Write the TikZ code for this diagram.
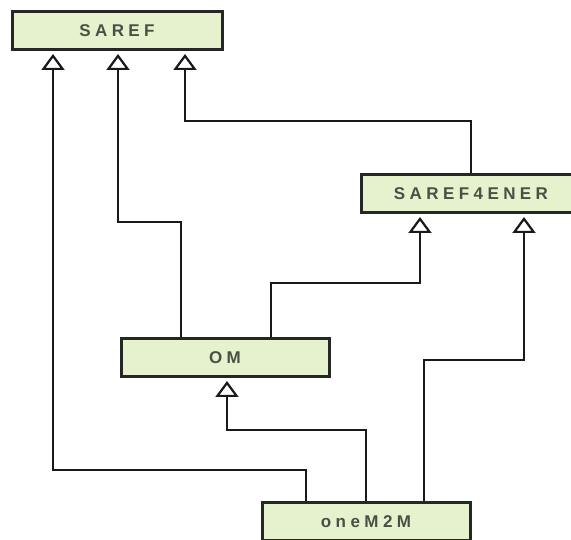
\documentclass[tikz,border=0pt]{standalone}
\usepackage{fontspec}
\usetikzlibrary{arrows.meta,positioning,calc}
\newfontfamily\boxfont[LetterSpace=26]{Liberation Sans}
\definecolor{boxgreen}{RGB}{230,242,206}
\definecolor{boxtext}{RGB}{70,82,68}

\begin{document}
\begin{tikzpicture}[
  x=1pt, y=-1pt,
  font=\boxfont\bfseries\fontsize{17}{20}\selectfont,
  >={Triangle[open, length=16pt, width=23pt, line width=2.2pt]},
  ont/.style={draw=black!85, line width=3pt, fill=boxgreen, text=boxtext,
    minimum height=38pt, inner sep=0pt},
  isa/.style={->, draw=black!90, line width=2.8pt, shorten >=3pt}]

\useasboundingbox (0,0) rectangle (571,540);

% ===== ontologies =====
\node[ont, minimum width=210pt] (saref)      at (117,30.5)  {SAREF};
\node[ont, minimum width=220pt] (saref4ener) at (471,193.5) {SAREF4ENER};
\node[ont, minimum width=208pt] (om)         at (225,357.5) {OM};
\node[ont, minimum width=208pt] (onem2m)     at (366,521.5) {oneM2M};

% ===== edges =====
\draw[isa] ([xshift=-60]onem2m.north) -- ++(0,-31) -| ([xshift=-64]saref.south);
\draw[isa] ([xshift=-44]om.north) -- ++(0,-115) -| ([xshift=1]saref.south);
\draw[isa] (saref4ener.north) -- ++(0,-52) -| ([xshift=68]saref.south);
\draw[isa] ([xshift=46]om.north) -- ++(0,-54) -| ([xshift=-51]saref4ener.south);
\draw[isa] (onem2m.north) -- ++(0,-71) -| ([xshift=2]om.south);
\draw[isa] ([xshift=58]onem2m.north) -- ++(0,-141) -| ([xshift=53]saref4ener.south);

\end{tikzpicture}
\end{document}
